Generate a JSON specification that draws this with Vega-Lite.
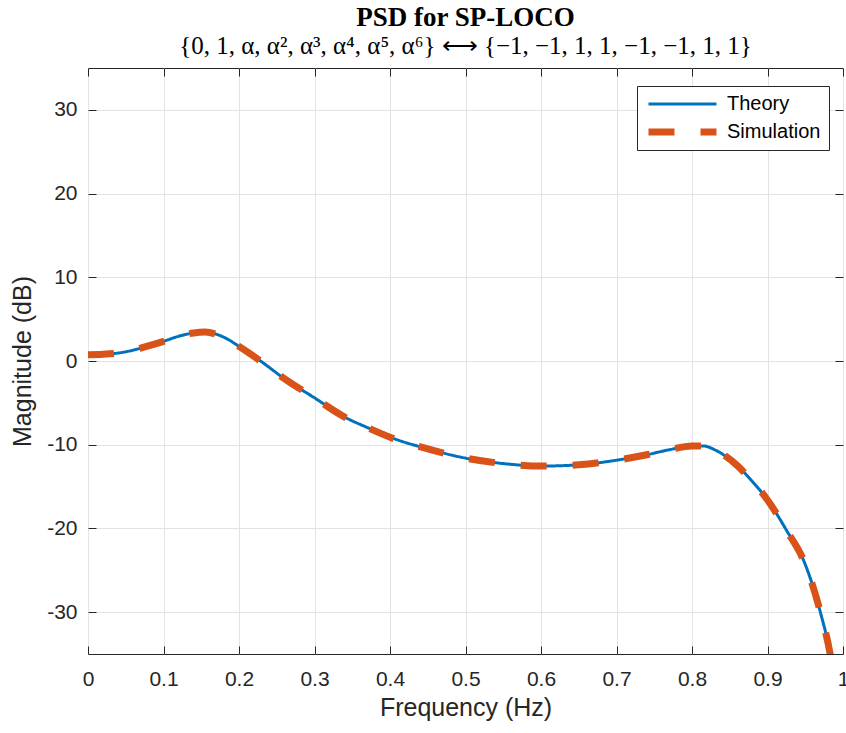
{
  "$schema": "https://vega.github.io/schema/vega-lite/v6.json",
  "width": 755,
  "height": 586,
  "autosize": {"type": "none"},
  "padding": {"left": 88, "top": 68, "right": 3, "bottom": 79},
  "background": "white",
  "title": {
    "text": "PSD for SP-LOCO",
    "subtitle": "{0, 1, α, α², α³, α⁴, α⁵, α⁶} ⟷ {−1, −1, 1, 1, −1, −1, 1, 1}",
    "anchor": "middle",
    "font": "Liberation Serif",
    "fontSize": 27,
    "fontWeight": "bold",
    "color": "#000000",
    "subtitleFont": "Liberation Serif",
    "subtitleFontSize": 25,
    "subtitleColor": "#000000",
    "subtitlePadding": 2,
    "offset": 8
  },
  "config": {
    "view": {"stroke": "#262626", "strokeWidth": 1},
    "font": "Liberation Sans"
  },
  "datasets": {
    "psd": [
      {"f": 0.0, "db": 0.75, "series": "Theory"},
      {"f": 0.02, "db": 0.8, "series": "Theory"},
      {"f": 0.04, "db": 0.95, "series": "Theory"},
      {"f": 0.06, "db": 1.3, "series": "Theory"},
      {"f": 0.08, "db": 1.8, "series": "Theory"},
      {"f": 0.1, "db": 2.35, "series": "Theory"},
      {"f": 0.12, "db": 2.95, "series": "Theory"},
      {"f": 0.14, "db": 3.35, "series": "Theory"},
      {"f": 0.155, "db": 3.45, "series": "Theory"},
      {"f": 0.17, "db": 3.2, "series": "Theory"},
      {"f": 0.185, "db": 2.6, "series": "Theory"},
      {"f": 0.2, "db": 1.75, "series": "Theory"},
      {"f": 0.215, "db": 0.85, "series": "Theory"},
      {"f": 0.23, "db": -0.1, "series": "Theory"},
      {"f": 0.26, "db": -2.1, "series": "Theory"},
      {"f": 0.3, "db": -4.4, "series": "Theory"},
      {"f": 0.34, "db": -6.7, "series": "Theory"},
      {"f": 0.37, "db": -7.95, "series": "Theory"},
      {"f": 0.4, "db": -9.1, "series": "Theory"},
      {"f": 0.45, "db": -10.5, "series": "Theory"},
      {"f": 0.5, "db": -11.6, "series": "Theory"},
      {"f": 0.55, "db": -12.25, "series": "Theory"},
      {"f": 0.6, "db": -12.55, "series": "Theory"},
      {"f": 0.65, "db": -12.4, "series": "Theory"},
      {"f": 0.7, "db": -11.85, "series": "Theory"},
      {"f": 0.74, "db": -11.2, "series": "Theory"},
      {"f": 0.77, "db": -10.6, "series": "Theory"},
      {"f": 0.8, "db": -10.15, "series": "Theory"},
      {"f": 0.815, "db": -10.15, "series": "Theory"},
      {"f": 0.83, "db": -10.6, "series": "Theory"},
      {"f": 0.845, "db": -11.4, "series": "Theory"},
      {"f": 0.86, "db": -12.5, "series": "Theory"},
      {"f": 0.88, "db": -14.4, "series": "Theory"},
      {"f": 0.9, "db": -16.6, "series": "Theory"},
      {"f": 0.925, "db": -20.2, "series": "Theory"},
      {"f": 0.95, "db": -24.3, "series": "Theory"},
      {"f": 0.97, "db": -30.0, "series": "Theory"},
      {"f": 0.983, "db": -35.0, "series": "Theory"},
      {"f": 0.99, "db": -39.0, "series": "Theory"},
      {"f": 0.0, "db": 0.75, "series": "Simulation"},
      {"f": 0.02, "db": 0.8, "series": "Simulation"},
      {"f": 0.04, "db": 0.95, "series": "Simulation"},
      {"f": 0.06, "db": 1.3, "series": "Simulation"},
      {"f": 0.08, "db": 1.8, "series": "Simulation"},
      {"f": 0.1, "db": 2.35, "series": "Simulation"},
      {"f": 0.12, "db": 2.95, "series": "Simulation"},
      {"f": 0.14, "db": 3.35, "series": "Simulation"},
      {"f": 0.155, "db": 3.45, "series": "Simulation"},
      {"f": 0.17, "db": 3.2, "series": "Simulation"},
      {"f": 0.185, "db": 2.6, "series": "Simulation"},
      {"f": 0.2, "db": 1.75, "series": "Simulation"},
      {"f": 0.215, "db": 0.85, "series": "Simulation"},
      {"f": 0.23, "db": -0.1, "series": "Simulation"},
      {"f": 0.26, "db": -2.1, "series": "Simulation"},
      {"f": 0.3, "db": -4.4, "series": "Simulation"},
      {"f": 0.34, "db": -6.7, "series": "Simulation"},
      {"f": 0.37, "db": -7.95, "series": "Simulation"},
      {"f": 0.4, "db": -9.1, "series": "Simulation"},
      {"f": 0.45, "db": -10.5, "series": "Simulation"},
      {"f": 0.5, "db": -11.6, "series": "Simulation"},
      {"f": 0.55, "db": -12.25, "series": "Simulation"},
      {"f": 0.6, "db": -12.55, "series": "Simulation"},
      {"f": 0.65, "db": -12.4, "series": "Simulation"},
      {"f": 0.7, "db": -11.85, "series": "Simulation"},
      {"f": 0.74, "db": -11.2, "series": "Simulation"},
      {"f": 0.77, "db": -10.6, "series": "Simulation"},
      {"f": 0.8, "db": -10.15, "series": "Simulation"},
      {"f": 0.815, "db": -10.15, "series": "Simulation"},
      {"f": 0.83, "db": -10.6, "series": "Simulation"},
      {"f": 0.845, "db": -11.4, "series": "Simulation"},
      {"f": 0.86, "db": -12.5, "series": "Simulation"},
      {"f": 0.88, "db": -14.4, "series": "Simulation"},
      {"f": 0.9, "db": -16.6, "series": "Simulation"},
      {"f": 0.925, "db": -20.2, "series": "Simulation"},
      {"f": 0.95, "db": -24.3, "series": "Simulation"},
      {"f": 0.97, "db": -30.0, "series": "Simulation"},
      {"f": 0.983, "db": -35.0, "series": "Simulation"},
      {"f": 0.99, "db": -39.0, "series": "Simulation"}
    ]
  },
  "data": {"name": "psd"},
  "layer": [
    {
      "mark": {"type": "line", "clip": true, "interpolate": "monotone", "strokeCap": "butt"},
      "encoding": {
        "x": {
          "field": "f", "type": "quantitative",
          "scale": {"domain": [0, 1], "nice": false, "zero": false},
          "axis": {
            "title": "Frequency (Hz)",
            "values": [0, 0.1, 0.2, 0.3, 0.4, 0.5, 0.6, 0.7, 0.8, 0.9, 1],
            "labelExpr": "'' + datum.value",
            "labelFlush": false,
            "grid": true, "gridColor": "#e3e3e3", "gridWidth": 1,
            "domain": false,
            "tickSize": -8, "tickColor": "#262626",
            "labelFont": "Liberation Sans", "labelFontSize": 21, "labelColor": "#262626",
            "labelPadding": 22, "labelBaseline": "top",
            "titleFont": "Liberation Sans", "titleFontSize": 25, "titleFontWeight": "normal",
            "titleColor": "#262626", "titlePadding": 6
          }
        },
        "y": {
          "field": "db", "type": "quantitative",
          "scale": {"domain": [-35, 35], "nice": false, "zero": false},
          "axis": {
            "title": "Magnitude (dB)",
            "values": [-30, -20, -10, 0, 10, 20, 30],
            "labelExpr": "'' + datum.value",
            "grid": true, "gridColor": "#e3e3e3", "gridWidth": 1,
            "domain": false,
            "tickSize": -8, "tickColor": "#262626",
            "labelFont": "Liberation Sans", "labelFontSize": 21, "labelColor": "#262626",
            "labelPadding": 19,
            "titleFont": "Liberation Sans", "titleFontSize": 25, "titleFontWeight": "normal",
            "titleColor": "#262626", "titlePadding": 11
          }
        },
        "color": {
          "field": "series", "type": "nominal",
          "scale": {"domain": ["Theory", "Simulation"], "range": ["#0072BD", "#D95319"]},
          "legend": {
            "title": null,
            "orient": "none",
            "legendX": 549,
            "legendY": 18,
            "symbolType": "stroke",
            "symbolSize": 4624,
            "clipHeight": 20,
            "rowPadding": 8,
            "labelOffset": 7,
            "labelFont": "Liberation Sans",
            "labelFontSize": 20,
            "labelColor": "#000000",
            "padding": 8,
            "strokeColor": "#262626",
            "fillColor": "white",
            "cornerRadius": 0
          }
        },
        "strokeDash": {
          "field": "series", "type": "nominal",
          "scale": {"domain": ["Theory", "Simulation"], "range": [[1, 0], [26, 26]]},
          "legend": {"title": null}
        },
        "strokeWidth": {
          "field": "series", "type": "nominal",
          "scale": {"domain": ["Theory", "Simulation"], "range": [3, 7]},
          "legend": {"title": null}
        },
        "order": {"field": "f", "type": "quantitative"}
      }
    },
    {
      "mark": {"type": "line", "opacity": 0},
      "encoding": {
        "x": {
          "field": "f", "type": "quantitative",
          "scale": {"domain": [0, 1], "nice": false, "zero": false},
          "axis": {
            "orient": "top", "title": null, "labels": false, "grid": false, "domain": false,
            "values": [0, 0.1, 0.2, 0.3, 0.4, 0.5, 0.6, 0.7, 0.8, 0.9, 1],
            "tickSize": -8, "tickColor": "#262626"
          }
        },
        "y": {
          "field": "db", "type": "quantitative",
          "scale": {"domain": [-35, 35], "nice": false, "zero": false},
          "axis": {
            "orient": "right", "title": null, "labels": false, "grid": false, "domain": false,
            "values": [-30, -20, -10, 0, 10, 20, 30],
            "tickSize": -8, "tickColor": "#262626"
          }
        }
      }
    }
  ],
  "resolve": {"axis": {"x": "independent", "y": "independent"}}
}
